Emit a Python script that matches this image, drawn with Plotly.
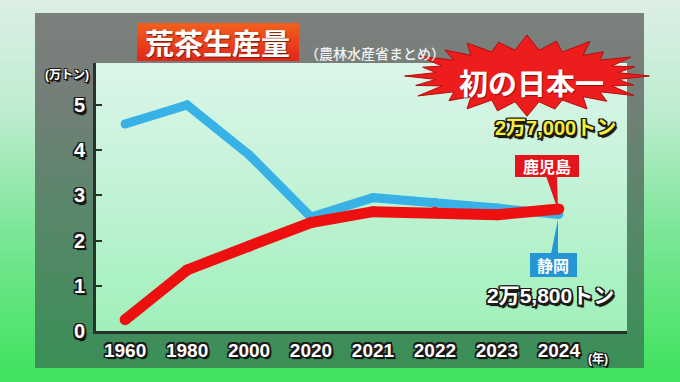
import math
import plotly.graph_objects as go

# ---------------- data ----------------
years = ["1960", "1980", "2000", "2020", "2021", "2022", "2023", "2024"]
shizuoka = [4.58, 5.0, 3.9, 2.52, 2.95, 2.85, 2.72, 2.58]
kagoshima = [0.25, 1.35, 1.88, 2.4, 2.64, 2.63, 2.57, 2.7]
y_ticks = [0, 1, 2, 3, 4, 5]

title_text = "荒茶生産量"
source_text = "（農林水産省まとめ）"
unit_text = "(万トン)"
year_unit = "(年)"
burst_text = "初の日本一"
kago_label, kago_value = "鹿児島", "2万7,000トン"
shizu_label, shizu_value = "静岡", "2万5,800トン"

# ---------------- layout geometry ----------------
W, H = 680, 382
L, R, T, B = 96, 627, 63, 331
FONT = "Liberation Sans Narrow, Liberation Sans, Noto Sans CJK JP, sans-serif"
JP = "Noto Sans CJK JP, sans-serif"


def px(x):
    return (x - L) / (R - L)


def py(y):
    return (B - y) / (B - T)


def hex2rgb(h):
    h = h.lstrip("#")
    return tuple(int(h[i:i + 2], 16) for i in (0, 2, 4))


def interp(stops, t):
    for (p0, c0), (p1, c1) in zip(stops, stops[1:]):
        if p0 <= t <= p1:
            f = 0 if p1 == p0 else (t - p0) / (p1 - p0)
            a, b = hex2rgb(c0), hex2rgb(c1)
            return "rgb(%d,%d,%d)" % tuple(round(a[i] + (b[i] - a[i]) * f) for i in range(3))
    return stops[-1][1]


shapes = []


def vgrad(x0, x1, y0, y1, stops, n=40, layer="below"):
    step = (y1 - y0) / n
    for i in range(n):
        ya = y0 + i * step
        yb = ya + step + 0.8
        t = (i + 0.5) / n
        shapes.append(dict(type="rect", xref="paper", yref="paper", layer=layer,
                           x0=px(x0), x1=px(x1), y0=py(ya), y1=py(min(yb, y1)),
                           line=dict(width=0), fillcolor=interp(stops, t)))


# outer background
vgrad(0, W, 0, H, [(0, "#dcefe6"), (0.3, "#bdeccf"), (0.6, "#7de699"), (1, "#3ee25c")], n=50)
# frame panel
vgrad(35, 644, 13, 368, [(0, "#7c807d"), (0.2, "#767e79"), (0.55, "#5a876b"), (1, "#3a8f57")], n=50)
# plot area
vgrad(L, R, T, B, [(0, "#dcf5e9"), (0.4, "#c6f3d9"), (1, "#a0f0bb")], n=40)

# title box
vgrad(137, 299, 23, 61, [(0, "#f2601e"), (1, "#e2261a")], n=12, layer="above")

# starburst
cx, cy = 527, 76
outer = [1.02, 0.93, 1.0, 0.9, 1.05, 0.95, 1.08, 0.92, 1.0, 0.97, 1.04, 0.9, 1.02, 0.96,
         1.05, 0.92, 1.0, 0.95, 1.06, 0.9, 1.0, 0.94, 1.03, 0.92]
pts = []
n = len(outer)
for i, f in enumerate(outer):
    a = 2 * math.pi * i / n
    pts.append((cx + 120 * f * math.cos(a), cy - 38 * f * math.sin(a)))
    a2 = 2 * math.pi * (i + 0.5) / n
    pts.append((cx + 92 * math.cos(a2), cy - 26 * math.sin(a2)))
path = "M " + " L ".join("%.4f,%.4f" % (px(x), py(y)) for x, y in pts) + " Z"
shapes.append(dict(type="path", xref="paper", yref="paper", layer="above", path=path,
                   fillcolor="#ee1d1d", line=dict(color="#b50c0c", width=1)))


def tri(p1, p2, p3, color):
    pth = "M %.4f,%.4f L %.4f,%.4f L %.4f,%.4f Z" % (px(p1[0]), py(p1[1]), px(p2[0]), py(p2[1]),
                                                     px(p3[0]), py(p3[1]))
    shapes.append(dict(type="path", xref="paper", yref="paper", layer="above", path=pth,
                       fillcolor=color, line=dict(width=0)))


def box(x0, x1, y0, y1, color):
    shapes.append(dict(type="rect", xref="paper", yref="paper", layer="above",
                       x0=px(x0), x1=px(x1), y0=py(y0), y1=py(y1),
                       fillcolor=color, line=dict(width=0)))


RED, BLUE = "#ee1010", "#38b2e6"
box(515, 579, 155, 177, "#e5141c")
tri((546, 176), (557, 176), (558, 210), "#e5141c")
box(530, 577, 253, 277, "#2596d4")
tri((558, 219), (551, 254), (558, 254), "#2596d4")

fig = go.Figure()
fig.add_trace(go.Scatter(x=years, y=shizuoka, mode="lines+markers",
                         line=dict(color=BLUE, width=9), marker=dict(color=BLUE, size=9),
                         hoverinfo="skip"))
fig.add_trace(go.Scatter(x=years, y=kagoshima, mode="lines+markers",
                         line=dict(color=RED, width=11), marker=dict(color=RED, size=11),
                         hoverinfo="skip"))

OUT = ("-1.5px -1.5px 0 #1b1b1b, 1.5px -1.5px 0 #1b1b1b, -1.5px 1.5px 0 #1b1b1b, "
       "1.5px 1.5px 0 #1b1b1b, 0 1.5px 0 #1b1b1b, 0 -1.5px 0 #1b1b1b, 1.5px 0 0 #1b1b1b, "
       "-1.5px 0 0 #1b1b1b, 2px 2.5px 1px #000")
OUT_THIN = ("-1px -1px 0 #1b1b1b, 1px -1px 0 #1b1b1b, -1px 1px 0 #1b1b1b, 1px 1px 0 #1b1b1b, "
            "1.5px 1.5px 1px #000")

ann = []


def text(x, y, s, size, color="white", family=FONT, shadow="none", weight=700):
    ann.append(dict(x=px(x), y=py(y), xref="paper", yref="paper", text=s, showarrow=False,
                    xanchor="center", yanchor="middle",
                    font=dict(size=size, color=color, family=family, weight=weight, shadow=shadow)))


text(217, 42, title_text, 29, family=JP, shadow="1px 1px 1px rgba(0,0,0,0.5)")
text(375, 53, source_text, 14, color="#f2f2f2", family=JP, weight=500)
text(67, 75, unit_text, 12, family=FONT, shadow=OUT_THIN)
text(598, 358, year_unit, 12, family=FONT, shadow=OUT_THIN)
text(531, 82, burst_text, 29, family=JP, shadow="1px 1px 1px rgba(0,0,0,0.4)")
text(555, 128, kago_value, 20, color="#f7ee3a", shadow=OUT)
text(547, 166, kago_label, 16, family=JP)
text(553, 265, shizu_label, 16, family=JP)
text(550, 295, shizu_value, 21, shadow=OUT)

fig.update_layout(
    width=W, height=H,
    margin=dict(l=L, r=W - R, t=T, b=H - B, pad=0),
    paper_bgcolor="#c2ecd0", plot_bgcolor="rgba(0,0,0,0)",
    showlegend=False,
    shapes=shapes, annotations=ann,
    xaxis=dict(type="category", range=[-0.47, 8.1], showgrid=False, zeroline=False,
               showline=True, linecolor="#26332b", linewidth=3, ticks="",
               tickfont=dict(size=19, color="white", family=FONT, weight=700, shadow=OUT),
               ticklabelstandoff=0, fixedrange=True),
    yaxis=dict(range=[0, 5.93], tickvals=y_ticks, showgrid=False, zeroline=False,
               showline=True, linecolor="#26332b", linewidth=3, ticks="inside",
               ticklen=6, tickwidth=2, tickcolor="#26332b",
               tickfont=dict(size=20, color="white", family=FONT, weight=700, shadow=OUT),
               ticklabelstandoff=4, fixedrange=True),
)

fig.write_html("out.html", config={"displayModeBar": False},
               post_script="document.body.style.margin='0';document.body.style.overflow='hidden';")
